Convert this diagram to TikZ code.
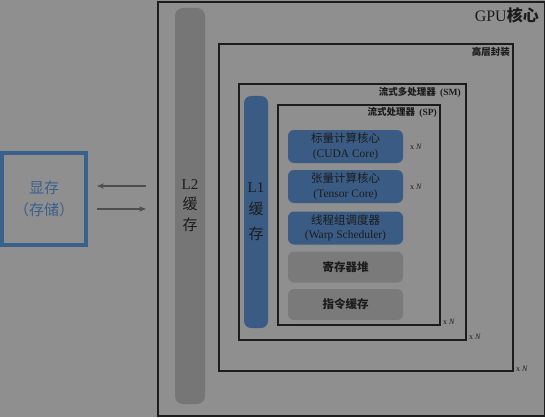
\documentclass[tikz,border=0pt]{standalone}
\usepackage{fontspec}
\setmainfont{Liberation Serif}
\newfontfamily\cjk{Noto Sans CJK SC}
\usetikzlibrary{arrows.meta}

\definecolor{bgray}{RGB}{143,143,143}
\definecolor{dline}{RGB}{28,28,28}
\definecolor{cacheblue}{RGB}{58,92,132}
\definecolor{unitgray}{RGB}{122,122,122}
\definecolor{bargray}{RGB}{118,118,118}
\definecolor{memblue}{RGB}{58,96,140}
\definecolor{arrgray}{RGB}{78,78,78}

\newcommand{\fs}[1]{\fontsize{#1}{#1}\selectfont}

\tikzset{
  frame/.style={draw=dline, line width=2pt, anchor=north west, inner sep=0pt},
  unitbox/.style={rounded corners=6pt, minimum width=115pt, minimum height=33pt,
    align=center, inner sep=0pt, text=dline, font=\fs{11.5}},
  tag/.style={anchor=north east, inner sep=0pt, text=dline, font=\cjk\bfseries\fs{9.5}},
  times/.style={inner sep=0pt, text=dline, font=\fs{8}}
}

\begin{document}
\begin{tikzpicture}[x=1pt, y=-1pt]
\fill[bgray] (0,0) rectangle (545,417);
\useasboundingbox (0,0) rectangle (545,417);

% frames
\node[frame, minimum width=387pt, minimum height=414pt] (gpu) at (157,1) {};
\node[frame, minimum width=294pt, minimum height=327pt] (pack) at (218,43) {};
\node[frame, minimum width=227pt, minimum height=256pt] (sm) at (238,83) {};
\node[frame, minimum width=162pt, minimum height=220pt] (sp) at (277,104) {};

\node[tag, font=\fs{16}] at (539,7) {GPU{\cjk\bfseries 核心}};
\node[tag] at (510,47) {高层封装};
\node[tag] at (461,87) {流式多处理器\ \ {\rmfamily(SM)}};
\node[tag] at (437,107) {流式处理器\ \ {\rmfamily(SP)}};

% caches
\node[fill=bargray, rounded corners=8pt, minimum width=30pt, minimum height=396pt,
  inner sep=0pt, align=center, text=dline, font=\fs{15}] (l2) at (190,206)
  {L2\\[5pt]{\cjk 缓}\\[6pt]{\cjk 存}};
\node[fill=cacheblue, rounded corners=7pt, minimum width=24pt, minimum height=232pt,
  inner sep=0pt, align=center, text=dline, font=\fs{15}] (l1) at (256,212)
  {L1\\[7pt]{\cjk 缓}\\[10pt]{\cjk 存}};

% units
\node[unitbox, fill=cacheblue] (scalar) at (345.5,146.5) {{\cjk 标量计算核心}\\[3pt](CUDA Core)};
\node[unitbox, fill=cacheblue] (tensor) at (345.5,186.5) {{\cjk 张量计算核心}\\[3pt](Tensor Core)};
\node[unitbox, fill=cacheblue] (warp) at (345.5,228) {{\cjk 线程组调度器}\\[3pt](Warp Scheduler)};
\node[unitbox, fill=unitgray, minimum height=31pt] (reg) at (345.5,267) {\cjk\bfseries 寄存器堆};
\node[unitbox, fill=unitgray, minimum height=31pt] (inst) at (345.5,304.5) {\cjk\bfseries 指令缓存};

% multiplicities
\node[times] at (416,147) {x \textit{N}};
\node[times] at (416,187) {x \textit{N}};
\node[times] at (449,322) {x \textit{N}};
\node[times] at (475,337) {x \textit{N}};
\node[times] at (522,369) {x \textit{N}};

% memory
\node[draw=memblue, line width=3.5pt, minimum width=84pt, minimum height=92pt,
  inner sep=0pt, align=center, text=memblue, font=\cjk\fs{15}] (mem) at (44,199)
  {显存\\[7pt]（存储）};
\coordinate (m1) at (97,186);
\coordinate (c1) at (146,186);
\coordinate (m2) at (97,209);
\coordinate (c2) at (146,209);
\draw[arrgray, line width=1.3pt, -{Stealth[length=7pt]}] (c1) -- (m1);
\draw[arrgray, line width=1.3pt, -{Stealth[length=7pt]}] (m2) -- (c2);
\end{tikzpicture}
\end{document}
